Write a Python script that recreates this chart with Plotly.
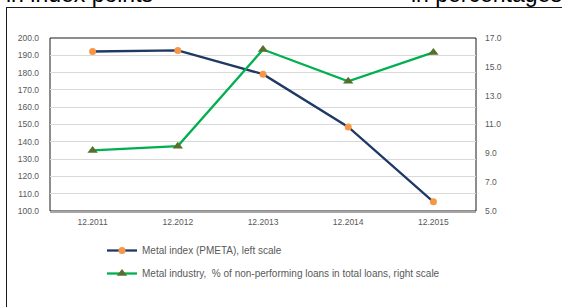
import plotly.graph_objects as go

categories = ["12.2011", "12.2012", "12.2013", "12.2014", "12.2015"]
metal_index = [192.2, 192.8, 179.1, 148.6, 105.3]
npl_share = [9.2, 9.5, 16.2, 14.0, 16.0]

left_ticks = [100, 110, 120, 130, 140, 150, 160, 170, 180, 190, 200]
right_ticks = [5, 7, 9, 11, 13, 15, 17]

name_index = "Metal index (PMETA), left scale"
name_npl = "Metal industry,\u00a0 % of non-performing loans in total loans, right scale"

W, H = 567, 307
L, R, T, B = 50, 91, 38, 96
pw, ph = W - L - R, H - T - B

def px(x):
    return (x - L) / pw

def py(y):
    return (H - B - y) / ph

FONT = "Liberation Sans"
TICK_COLOR = "#595959"

fig = go.Figure()
fig.add_trace(go.Scatter(
    x=categories, y=metal_index, name=name_index, mode="lines+markers",
    line=dict(color="#1F3864", width=2.3),
    marker=dict(symbol="circle", size=7, color="#F79646"),
    legendgroup="a", yaxis="y",
))
fig.add_trace(go.Scatter(
    x=categories, y=npl_share, name=name_npl, mode="lines+markers",
    line=dict(color="#00B050", width=2.3),
    marker=dict(symbol="triangle-up", size=9, color="#55702A"),
    legendgroup="b", yaxis="y2",
))

fig.update_layout(
    width=W, height=H,
    margin=dict(l=L, r=R, t=T, b=B, pad=0, autoexpand=False),
    paper_bgcolor="white", plot_bgcolor="white",
    font=dict(family=FONT, size=9, color=TICK_COLOR),
    showlegend=True,
    legend=dict(
        x=px(102), y=py(236), xanchor="left", yanchor="top",
        orientation="v", traceorder="grouped", tracegroupgap=4,
        font=dict(family=FONT, size=10, color="#595959"),
        bgcolor="rgba(0,0,0,0)", borderwidth=0,
    ),
    xaxis=dict(
        type="category", categoryorder="array", categoryarray=categories,
        range=[-0.5, 4.5], showgrid=False, zeroline=False,
        showline=True, linecolor="#A6A6A6", linewidth=2,
        ticks="", tickfont=dict(family=FONT, size=8.5, color=TICK_COLOR),
        ticklabelstandoff=2,
    ),
    yaxis=dict(
        range=[100, 200], tickvals=left_ticks, tickformat=".1f",
        showgrid=True, gridcolor="#D9D9D9", gridwidth=1,
        zeroline=False, showline=False, ticks="",
        tickfont=dict(family=FONT, size=8.5, color=TICK_COLOR),
        ticklabelstandoff=10,
    ),
    yaxis2=dict(
        range=[5, 17], tickvals=right_ticks, tickformat=".1f",
        overlaying="y", side="right", showgrid=False,
        zeroline=False, showline=False, ticks="",
        tickfont=dict(family=FONT, size=8.5, color=TICK_COLOR),
        ticklabelstandoff=8,
    ),
    shapes=[
        dict(type="rect", xref="paper", yref="paper", x0=0, x1=1, y0=0, y1=1,
             line=dict(color="#1a1a1a", width=1), layer="between"),
        dict(type="line", xref="paper", yref="paper", x0=px(6), x1=px(562), y0=py(7.5), y1=py(7.5),
             line=dict(color="#1a1a1a", width=1)),
        dict(type="line", xref="paper", yref="paper", x0=px(6.5), x1=px(6.5), y0=py(7), y1=py(310),
             line=dict(color="#1a1a1a", width=1)),
    ],
    annotations=[
        dict(text="in index points", xref="paper", yref="paper", x=px(4), y=py(-6),
             xanchor="left", yanchor="middle", showarrow=False,
             font=dict(family=FONT, size=23, color="#000000")),
        dict(text="in percentages", xref="paper", yref="paper", x=px(564), y=py(-6),
             xanchor="right", yanchor="middle", showarrow=False,
             font=dict(family=FONT, size=23, color="#000000")),
    ],
)

fig.write_html("out.html", config={"displayModeBar": False},
               post_script="document.body.style.margin='0';")
